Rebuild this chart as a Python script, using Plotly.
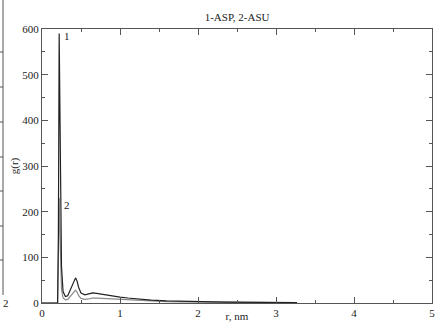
import plotly.graph_objects as go

# r in nm
r = [0, 0.19, 0.20, 0.21, 0.22, 0.23, 0.24, 0.25, 0.27, 0.30, 0.33, 0.36, 0.40, 0.43, 0.45,
     0.47, 0.50, 0.55, 0.60, 0.65, 0.70, 0.80, 0.90, 1.00, 1.10, 1.20, 1.40, 1.60, 1.80,
     2.00, 2.20, 2.40, 2.60, 2.80, 3.00, 3.27]
g_asp = [0, 0, 0, 150, 590, 420, 200, 80, 25, 14, 16, 28, 46, 55, 48,
         34, 22, 18, 20, 22, 21, 18, 15, 13, 11, 9, 6.5, 4.8, 3.6,
         2.8, 2.3, 1.8, 1.5, 1.2, 1.0, 0.8]
g_asu = [0, 0, 0, 90, 230, 160, 80, 30, 11, 7, 8, 14, 23, 28, 24,
         16, 10, 8, 9, 11, 10.5, 9.5, 8.5, 7.5, 6.5, 5.5, 4.2, 3.2, 2.5,
         2.0, 1.6, 1.3, 1.1, 0.9, 0.7, 0.5]

title_text = "1-ASP, 2-ASU"
x_title = "r, nm"
y_title = "g(r)"
x_ticks = [0, 1, 2, 3, 4, 5]
y_ticks = [0, 100, 200, 300, 400, 500, 600]

W, H = 435, 322
L, R, T, B = 42, 3, 29, 19

fig = go.Figure()
fig.add_trace(go.Scatter(x=r, y=g_asu, mode="lines", line=dict(color="#8a8a8a", width=1.2),
                         showlegend=False))
fig.add_trace(go.Scatter(x=r, y=g_asp, mode="lines", line=dict(color="#222", width=1.2),
                         showlegend=False))

font = dict(family="Liberation Serif", size=11, color="#222")

axis_common = dict(showgrid=False, zeroline=False, showline=True, linecolor="#555",
                   linewidth=1, mirror="allticks", ticks="inside", ticklen=6,
                   tickcolor="#555", tickfont=font, automargin=False,
                   ticklabeloverflow="allow",
                   minor=dict(ticks="inside", ticklen=3, tickcolor="#555"))

fig.update_xaxes(range=[0, 5], tickvals=x_ticks, minor_dtick=0.5,
                 title=dict(text=x_title, font=font, standoff=10), **axis_common)
fig.update_yaxes(range=[0, 600], tickvals=y_ticks, minor_dtick=50,
                 title=dict(text=y_title, font=font, standoff=1), **axis_common)

fig.add_annotation(x=0.26, y=585, text="1", showarrow=False, xanchor="left", font=font)
fig.add_annotation(x=0.26, y=215, text="2", showarrow=False, xanchor="left", font=font)

# residue of neighbouring panel on left edge
pw = W - L - R
ph = H - T - B
def px(xp):
    return (xp - L) / pw
def py(yp):
    return (H - B - yp) / ph

fig.add_shape(type="line", xref="paper", yref="paper", x0=px(3), x1=px(3), y0=py(0), y1=py(295),
              line=dict(color="#555", width=1))
for yy in [52, 87, 122, 157, 191, 226, 260]:
    fig.add_shape(type="line", xref="paper", yref="paper", x0=px(0), x1=px(3), y0=py(yy), y1=py(yy),
                  line=dict(color="#555", width=1))
fig.add_annotation(xref="paper", yref="paper", x=px(1), y=py(303), text="2", showarrow=False,
                   xanchor="left", yanchor="middle", font=font)

fig.update_layout(width=W, height=H, margin=dict(l=L, r=R, t=T, b=B),
                  paper_bgcolor="white", plot_bgcolor="white",
                  title=dict(text=title_text, x=0.545, xanchor="center", y=1 - 17 / H,
                             yanchor="middle", font=font))

fig.write_html("out.html", config={"displayModeBar": False},
               post_script="document.body.style.margin='0';")
